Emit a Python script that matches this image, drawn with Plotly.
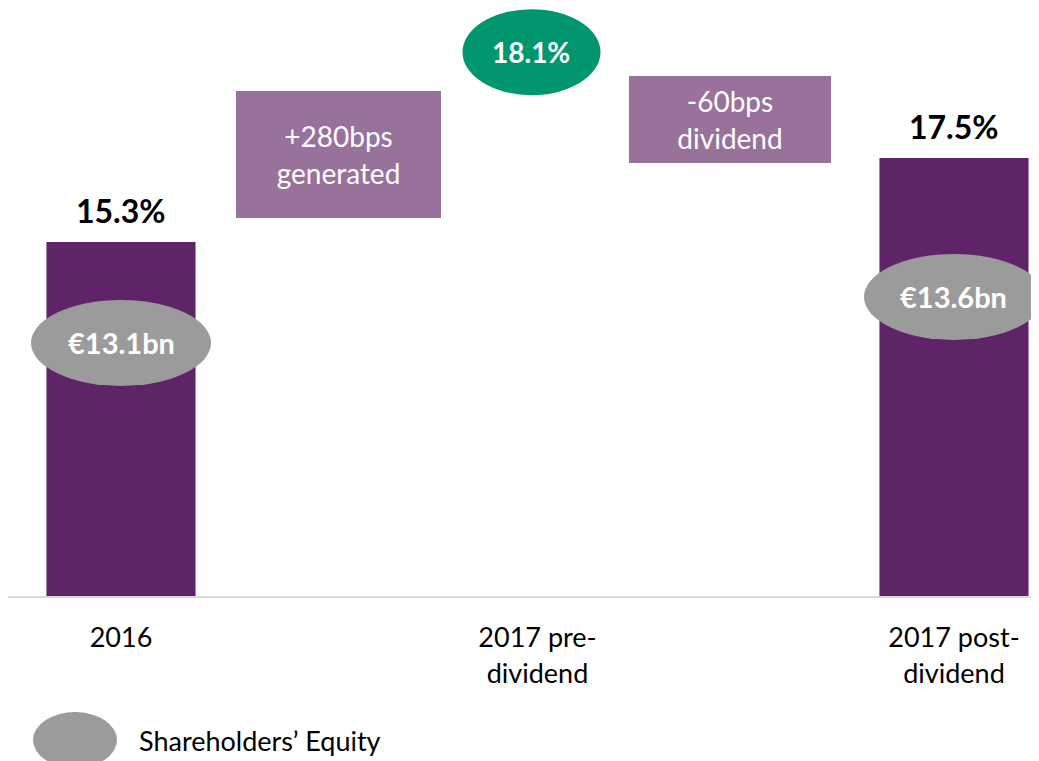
import plotly.graph_objects as go

# chart data
categories = ["2016", "2017 pre-<br>dividend", "2017 post-<br>dividend"]
ratio = [15.3, 18.1, 17.5]
ratio_labels = ["15.3%", "18.1%", "17.5%"]
equity = [13.1, None, 13.6]
equity_labels = ["€13.1bn", None, "€13.6bn"]
change_labels = ["+280bps<br>generated", "-60bps<br>dividend"]

PURPLE = "#5f2468"
MAUVE = "#99729c"
GREEN = "#00966f"
GREY = "#9b9b9b"
FONT = "Lato"


def plot():
    x = list(range(len(categories)))
    colors = [PURPLE, "rgba(0,0,0,0)", PURPLE]

    fig = go.Figure()
    fig.add_trace(go.Bar(
        x=x, y=ratio, width=0.358,
        marker=dict(color=colors, line=dict(width=0)),
        hoverinfo="skip", showlegend=False,
    ))
    # invisible trace so the y2 axis exists
    fig.add_trace(go.Scatter(
        x=x, y=equity, yaxis="y2", mode="markers",
        marker=dict(opacity=0), hoverinfo="skip", showlegend=False,
    ))

    shapes = []
    annotations = []

    # bar values (skip the pre-dividend one, shown in the green bubble)
    for i in (0, 2):
        annotations.append(dict(
            x=i, y=ratio[i], xref="x", yref="y", text="<b>%s</b>" % ratio_labels[i],
            showarrow=False, yanchor="middle", yshift=32,
            font=dict(family=FONT, size=32, color="black"),
        ))

    # shareholders' equity bubbles
    for i, (v, lab) in enumerate(zip(equity, equity_labels)):
        if v is None:
            continue
        shapes.append(dict(
            type="circle", xref="x", yref="y2", xsizemode="pixel", ysizemode="pixel",
            xanchor=i, yanchor=v, x0=-90, x1=90, y0=-43, y1=43,
            fillcolor=GREY, line=dict(width=0), layer="above",
        ))
        annotations.append(dict(
            x=i, y=v, xref="x", yref="y2", text="<b>%s</b>" % lab, showarrow=False,
            font=dict(family=FONT, size=29, color="white"),
        ))

    # 2017 pre-dividend bubble
    shapes.append(dict(
        type="circle", xref="x", yref="y", xsizemode="pixel", ysizemode="pixel",
        xanchor=1, yanchor=ratio[1], x0=-75, x1=63, y0=40, y1=126,
        fillcolor=GREEN, line=dict(width=0), layer="above",
    ))
    annotations.append(dict(
        x=1, y=ratio[1], xref="x", yref="y", text="<b>%s</b>" % ratio_labels[1],
        showarrow=False, xshift=-6, yshift=83,
        font=dict(family=FONT, size=28, color="white"),
    ))

    # change boxes
    boxes = [
        dict(x=0.5, y=(ratio[0] + ratio[1]) / 2, xshift=9, yshift=34, w=205, h=127),
        dict(x=1.5, y=(ratio[1] + ratio[2]) / 2, xshift=-16, yshift=27, w=202, h=87),
    ]
    for b, lab in zip(boxes, change_labels):
        annotations.append(dict(
            x=b["x"], y=b["y"], xref="x", yref="y", text=lab, showarrow=False,
            xshift=b["xshift"], yshift=b["yshift"], width=b["w"], height=b["h"],
            bgcolor=MAUVE, borderpad=0, borderwidth=0, align="center", valign="middle",
            font=dict(family=FONT, size=28, color="white"),
        ))

    # legend
    shapes.append(dict(
        type="circle", xref="paper", yref="paper", xsizemode="pixel", ysizemode="pixel",
        xanchor=0.065, yanchor=-0.2449, x0=-42, x1=42, y0=-28, y1=28,
        fillcolor=GREY, line=dict(width=0),
    ))
    annotations.append(dict(
        x=0.1251, y=-0.2449, xref="paper", yref="paper", text="Shareholders’ Equity",
        showarrow=False, xanchor="left", yanchor="middle",
        font=dict(family=FONT, size=27, color="black"),
    ))

    fig.update_layout(
        width=1031, height=753,
        margin=dict(l=0, r=0, t=0, b=165),
        plot_bgcolor="white",
        paper_bgcolor="white",
        shapes=shapes,
        annotations=annotations,
        xaxis=dict(
            range=[-0.2713, 2.2041], tickmode="array", tickvals=x, ticktext=categories,
            showline=True, linecolor="#d9d9d9", linewidth=2, showgrid=False,
            ticks="outside", ticklen=17, tickcolor="rgba(0,0,0,0)",
            tickfont=dict(family=FONT, size=27, color="black"),
            fixedrange=True,
        ),
        yaxis=dict(range=[6.03, 21.43], visible=False, showgrid=False, fixedrange=True),
        yaxis2=dict(range=[10.35, 16.74], overlaying="y", visible=False,
                    showgrid=False, fixedrange=True),
        hovermode=False,
    )
    fig.write_html("out.html")


if __name__ == "__main__":
    plot()
